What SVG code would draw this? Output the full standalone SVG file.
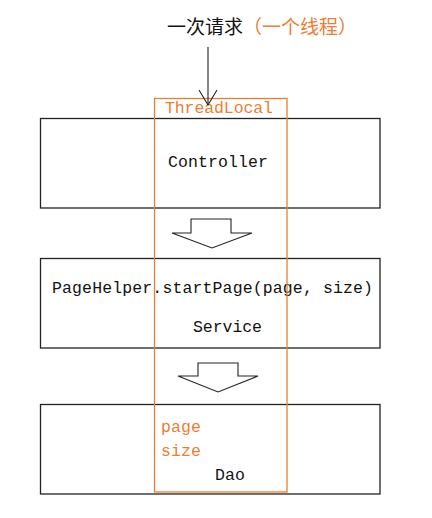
<svg xmlns="http://www.w3.org/2000/svg" width="432" height="518" viewBox="0 0 432 518">
<defs>
<style>
.box{fill:#fff;stroke:#222;stroke-width:1.3}
.tl{fill:none;stroke:#ED7D31;stroke-width:1.3}
.blk{fill:#fff;stroke:#222;stroke-width:1.1}
.mono{font-family:"Liberation Mono","DejaVu Sans Mono",monospace;font-size:16.5px;fill:#111}
.or{fill:#ED7D31}
.cjk{font-family:"Noto Sans CJK SC","DejaVu Sans",sans-serif;font-size:19px}
</style>
<marker id="v" markerWidth="20" markerHeight="20" refX="16" refY="10" orient="auto" markerUnits="userSpaceOnUse" viewBox="0 0 20 20">
<path d="M1,1 L16,10 L1,19" fill="none" stroke="#222" stroke-width="1.1"/>
</marker>
</defs>
<rect width="432" height="518" fill="#fff"/>
<g id="request">
<text x="167" y="34" class="cjk" fill="#111">一次请求<tspan class="or">（一个线程）</tspan></text>
</g>
<g id="controller">
<rect class="box" x="40.5" y="118.5" width="339.5" height="89.5"/>
<text class="mono" x="168" y="167" textLength="100">Controller</text>
</g>
<g id="service">
<rect class="box" x="40.5" y="258.5" width="339.5" height="89.5"/>
<text class="mono" x="52" y="293" textLength="321">PageHelper.startPage(page, size)</text>
<text class="mono" x="193" y="332" textLength="69">Service</text>
</g>
<g id="dao">
<rect class="box" x="40.5" y="404.5" width="339.5" height="89.5"/>
<text class="mono" x="215" y="480" textLength="30">Dao</text>
</g>
<g id="threadlocal">
<rect class="tl" x="154.5" y="98.5" width="132.5" height="393.5"/>
<text class="mono or" x="165" y="113" textLength="108">ThreadLocal</text>
<text class="mono or" x="161" y="432" textLength="40">page</text>
<text class="mono or" x="161" y="456" textLength="40">size</text>
</g>
<g id="connectors">
<line x1="208" y1="47" x2="208" y2="105" stroke="#222" stroke-width="1.1" marker-end="url(#v)"/>
<path class="blk" d="M191,219 L231,219 L231,233 L252,233 L212,248 L172,233 L191,233 Z"/>
<path class="blk" d="M198,363 L238,363 L238,376 L258,376 L218,392 L178,376 L198,376 Z"/>
</g>
</svg>
